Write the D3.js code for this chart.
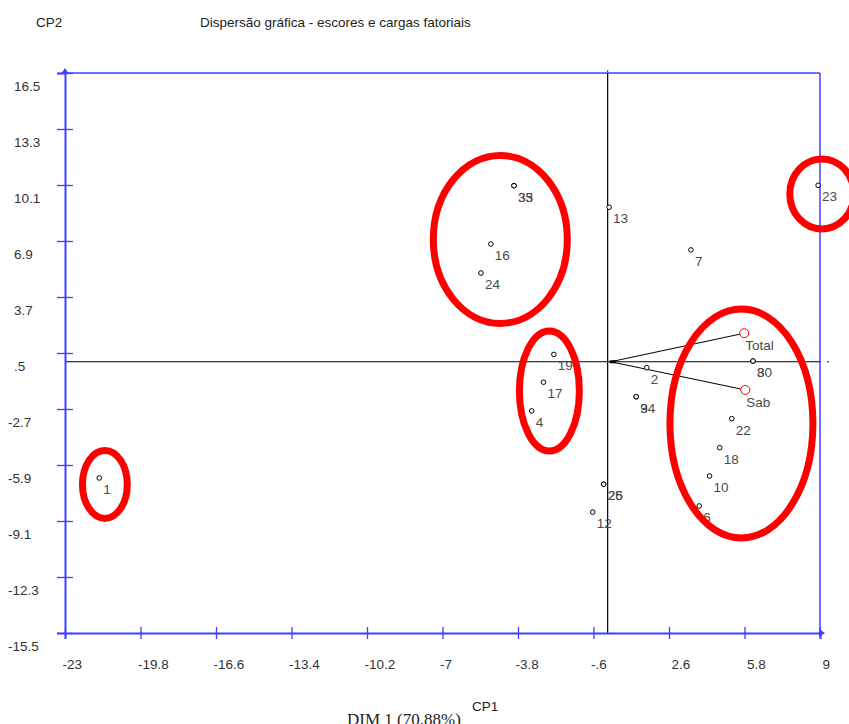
<!DOCTYPE html>
<html>
<head>
<meta charset="utf-8">
<script src="https://cdn.jsdelivr.net/npm/d3@7"></script>
<style>
  body { margin: 0; background: #fff; }
  svg { display: block; }
</style>
</head>
<body>
<main></main>
<script>
// Data
const xTickValues = [-23, -19.8, -16.6, -13.4, -10.2, -7, -3.8, -0.6, 2.6, 5.8, 9];
const xTickLabels = ["-23", "-19.8", "-16.6", "-13.4", "-10.2", "-7", "-3.8", "-.6", "2.6", "5.8", "9"];
const yTickValues = [16.5, 13.3, 10.1, 6.9, 3.7, 0.5, -2.7, -5.9, -9.1, -12.3, -15.5];
const yTickLabels = ["16.5", "13.3", "10.1", "6.9", "3.7", ".5", "-2.7", "-5.9", "-9.1", "-12.3", "-15.5"];

// scores (observations)
const obsLabels = ["1", "33", "35", "16", "24", "13", "7", "23", "19", "17", "4", "2", "9", "34",
  "25", "26", "12", "8", "30", "22", "18", "10", "6"];
const obsX = [-21.55, -3.97, -3.97, -4.95, -5.37, 0.06, 3.53, 8.92, -2.28, -2.72, -3.22, 1.66, 1.21, 1.21,
  -0.17, -0.17, -0.63, 6.16, 6.16, 5.26, 4.75, 4.32, 3.88];
const obsY = [-6.64, 10.06, 10.06, 6.73, 5.07, 8.83, 6.39, 10.08, 0.42, -1.17, -2.81, -0.34, -2.0, -2.0,
  -7.0, -7.0, -8.59, 0.04, 0.04, -3.25, -4.91, -6.53, -8.24];

// loadings (variables)
const varLabels = ["Total", "Sab"];
const varX = [5.79, 5.83];
const varY = [1.63, -1.61];

// red hand-drawn groupings (centre and radii in data units)
const groupCx = [-4.55, -2.47, -21.31, 9.08, 5.67];
const groupCy = [6.99, -1.67, -7.01, 9.59, -3.53];
const groupRx = [2.84, 1.27, 0.95, 1.36, 3.03];
const groupRy = [4.8, 3.43, 1.94, 2.0, 6.54];

// Dimensions
const width = 849;
const height = 724;
const margin = { top: 73, right: 29, bottom: 91, left: 65 };
const blue = "#4040ff";
const labelColor = "#4a4a4a";
const fs = 13.5;

const svg = d3.select("main")
  .append("svg")
  .attr("width", width)
  .attr("height", height)
  .style("font-family", "'Liberation Sans', Arial, sans-serif");

// Scales
const x = d3.scaleLinear()
  .domain([-23, 9])
  .range([margin.left, width - margin.right]);

const y = d3.scaleLinear()
  .domain([-15.5, 16.5])
  .range([height - margin.bottom, margin.top]);

const x0 = x.range()[0], x1 = x.range()[1];
const y0 = y.range()[0], y1 = y.range()[1];

// Titles
svg.append("text")
  .attr("x", 36)
  .attr("y", 27)
  .attr("font-size", fs)
  .attr("fill", "#222")
  .text("CP2");

svg.append("text")
  .attr("x", 200)
  .attr("y", 27)
  .attr("font-size", fs)
  .attr("fill", "#222")
  .text("Dispersão gráfica - escores e cargas fatoriais");

// Frame (top and right)
svg.append("line")
  .attr("x1", x0).attr("x2", x1)
  .attr("y1", y1).attr("y2", y1)
  .attr("stroke", blue).attr("stroke-width", 1.5);
svg.append("line")
  .attr("x1", x1).attr("x2", x1)
  .attr("y1", y1).attr("y2", y0)
  .attr("stroke", blue).attr("stroke-width", 1.5);

// Crosshair through the origin
svg.append("line")
  .attr("x1", x(0)).attr("x2", x(0))
  .attr("y1", y1).attr("y2", y0)
  .attr("stroke", "#000").attr("stroke-width", 1.2);
svg.append("line")
  .attr("x1", x0).attr("x2", x1)
  .attr("y1", y(0)).attr("y2", y(0))
  .attr("stroke", "#000").attr("stroke-width", 1.2);
svg.append("circle").attr("cx", x(0)).attr("cy", y1 - 2).attr("r", 0.8).attr("fill", "#000");
svg.append("circle").attr("cx", x1 + 8).attr("cy", y(0)).attr("r", 0.8).attr("fill", "#000");

// Axes
const yAxis = d3.axisLeft(y)
  .tickValues(yTickValues)
  .tickFormat((d, i) => yTickLabels[i])
  .tickSizeOuter(0)
  .tickSize(8);

const gy = svg.append("g")
  .attr("transform", `translate(${x0},0)`)
  .call(yAxis);
gy.select(".domain").attr("stroke", blue).attr("stroke-width", 2);
gy.selectAll(".tick line").attr("stroke", blue).attr("x1", -8).attr("x2", 8).attr("stroke-width", 1.3);
gy.selectAll(".tick text")
  .attr("text-anchor", "start")
  .attr("x", d => d < 0 ? -57 : -51)
  .attr("y", 17)
  .attr("dy", 0)
  .attr("font-size", fs)
  .attr("font-family", "'Liberation Sans', Arial, sans-serif")
  .attr("fill", "#333");

const xAxis = d3.axisBottom(x)
  .tickValues(xTickValues)
  .tickFormat((d, i) => xTickLabels[i])
  .tickSizeOuter(0)
  .tickSize(6);

const gx = svg.append("g")
  .attr("transform", `translate(0,${y0})`)
  .call(xAxis);
gx.select(".domain").attr("stroke", blue).attr("stroke-width", 2);
gx.selectAll(".tick line").attr("stroke", blue).attr("y1", -6).attr("y2", 6).attr("stroke-width", 1.3);
gx.selectAll(".tick text")
  .attr("text-anchor", "start")
  .attr("x", d => d < 0 ? -3 : 2)
  .attr("y", 36)
  .attr("dy", 0)
  .attr("font-size", fs)
  .attr("font-family", "'Liberation Sans', Arial, sans-serif")
  .attr("fill", "#333");

// Arrowheads
svg.append("path")
  .attr("d", `M${x0 - 4},${y1 + 1} L${x0},${y1 - 5} L${x0 + 4},${y1 + 1} Z`)
  .attr("fill", blue);
svg.append("path")
  .attr("d", `M${x1 - 1},${y0 - 4} L${x1 + 5},${y0} L${x1 - 1},${y0 + 4} Z`)
  .attr("fill", blue);

// Loading vectors
const vars = varLabels.map((d, i) => ({ label: d, x: varX[i], y: varY[i] }));
svg.selectAll(".vec")
  .data(vars)
  .enter()
  .append("line")
  .attr("class", "vec")
  .attr("x1", x(0) + 3).attr("y1", y(0))
  .attr("x2", d => x(d.x)).attr("y2", d => y(d.y))
  .attr("stroke", "#000").attr("stroke-width", 1);
svg.append("rect")
  .attr("x", x(0) + 2).attr("y", y(0) - 1.5)
  .attr("width", 6).attr("height", 3)
  .attr("fill", "#000");
svg.selectAll(".var")
  .data(vars)
  .enter()
  .append("circle")
  .attr("class", "var")
  .attr("cx", d => x(d.x)).attr("cy", d => y(d.y))
  .attr("r", 4.5)
  .attr("fill", "#fff").attr("stroke", "#f00").attr("stroke-width", 1);
svg.selectAll(".varlab")
  .data(vars)
  .enter()
  .append("text")
  .attr("class", "varlab")
  .attr("x", d => x(d.x) + 1).attr("y", d => y(d.y) + 17)
  .attr("font-size", fs)
  .attr("fill", labelColor)
  .text(d => d.label);

// Score points
const obs = obsLabels.map((d, i) => ({ label: d, x: obsX[i], y: obsY[i] }));
svg.selectAll(".pt")
  .data(obs)
  .enter()
  .append("circle")
  .attr("class", "pt")
  .attr("cx", d => x(d.x)).attr("cy", d => y(d.y))
  .attr("r", 2.3)
  .attr("fill", "#fff").attr("stroke", "#000").attr("stroke-width", 1);
svg.selectAll(".ptlab")
  .data(obs)
  .enter()
  .append("text")
  .attr("class", "ptlab")
  .attr("x", d => x(d.x) + 4).attr("y", d => y(d.y) + 16)
  .attr("font-size", fs)
  .attr("fill", labelColor)
  .text(d => d.label);

// Red groupings
const groups = groupCx.map((d, i) => ({ cx: d, cy: groupCy[i], rx: groupRx[i], ry: groupRy[i] }));
svg.selectAll(".grp")
  .data(groups)
  .enter()
  .append("ellipse")
  .attr("class", "grp")
  .attr("cx", d => x(d.cx)).attr("cy", d => y(d.cy))
  .attr("rx", d => x(d.cx + d.rx) - x(d.cx))
  .attr("ry", d => y(d.cy - d.ry) - y(d.cy))
  .attr("fill", "none").attr("stroke", "#ff0000").attr("stroke-width", 7);

// Axis captions
svg.append("text")
  .attr("x", 472)
  .attr("y", 711)
  .attr("font-size", fs)
  .attr("fill", "#222")
  .text("CP1");

svg.append("text")
  .attr("x", 347)
  .attr("y", 725)
  .attr("font-size", 17)
  .attr("font-family", "'Liberation Serif', 'Times New Roman', serif")
  .attr("fill", "#222")
  .text("DIM 1 (70.88%)");
</script>
</body>
</html>
